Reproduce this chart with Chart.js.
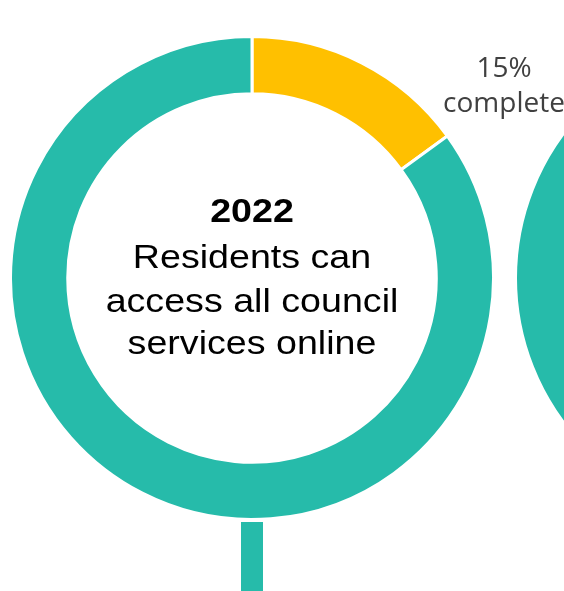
<!DOCTYPE html>
<html>
<head>
<meta charset="utf-8">
<script src="https://cdn.jsdelivr.net/npm/chart.js@4/dist/chart.umd.min.js"></script>
<style>
  html, body { margin: 0; padding: 0; background: #ffffff; overflow: hidden; }
  #page { position: relative; width: 564px; height: 591px; overflow: hidden; }
  .ring { position: absolute; width: 486px; height: 486px; }
  #ring2022 { left: 9px; top: 35px; }
  #ringNext { left: 514px; top: 35px; }
  #stem { position: absolute; left: 241px; top: 522px; width: 22px; height: 69px; background: #26BBAA; }
</style>
</head>
<body>
<div id="page">
  <div id="stem"></div>
  <div class="ring" id="ring2022"><canvas id="c2022"></canvas></div>
  <div class="ring" id="ringNext"><canvas id="cNext"></canvas></div>
</div>
<script>
// Progress segments for each milestone ring
const segments = ['Complete', 'Remaining'];
const progress2022 = [15, 85];
const progressNext = [0, 100];

// Milestone text in the middle of the 2022 ring
const milestoneYear = '2022';
const milestoneLines = ['Residents can', 'access all council', 'services online'];
const progressLabel = ['15%', 'complete'];

const TEAL = '#26BBAA';
const AMBER = '#FFC000';

const centreText = {
  id: 'centreText',
  afterDraw(chart) {
    const arc = chart.getDatasetMeta(0).data[0];
    const { x, y } = arc;
    const ctx = chart.ctx;
    ctx.save();
    ctx.fillStyle = '#000000';
    ctx.textAlign = 'center';
    ctx.textBaseline = 'alphabetic';
    ctx.translate(x, y);
    ctx.scale(1.14, 1);
    ctx.font = 'bold 33px "Liberation Sans", Arial, sans-serif';
    ctx.fillText(milestoneYear, 0, -56);
    ctx.font = '33px "Liberation Sans", Arial, sans-serif';
    const offsets = [-10, 34, 76];
    milestoneLines.forEach((line, i) => ctx.fillText(line, 0, offsets[i]));
    ctx.restore();
  }
};

function ring(id, values, plugins) {
  return new Chart(document.getElementById(id), {
    type: 'doughnut',
    data: {
      labels: segments,
      datasets: [{
        data: values,
        backgroundColor: [AMBER, TEAL],
        borderColor: '#ffffff',
        borderWidth: 3
      }]
    },
    options: {
      responsive: true,
      maintainAspectRatio: false,
      animation: false,
      cutout: '76.3%',
      layout: { padding: 0 },
      plugins: { legend: { display: false }, tooltip: { enabled: false } }
    },
    plugins: plugins
  });
}

ring('c2022', progress2022, [centreText]);
ring('cNext', progressNext, []);

// Percentage label sits between the two rings, above them
const page = document.getElementById('page');
const lbl = document.createElement('canvas');
lbl.width = 564; lbl.height = 140;
lbl.style.position = 'absolute'; lbl.style.left = '0px'; lbl.style.top = '0px';
page.appendChild(lbl);
const lctx = lbl.getContext('2d');
lctx.fillStyle = '#404040';
lctx.textAlign = 'center';
lctx.font = '28px "Open Sans", sans-serif';
lctx.fillText(progressLabel[0], 504, 77);
lctx.fillText(progressLabel[1], 504, 112);
</script>
</body>
</html>
